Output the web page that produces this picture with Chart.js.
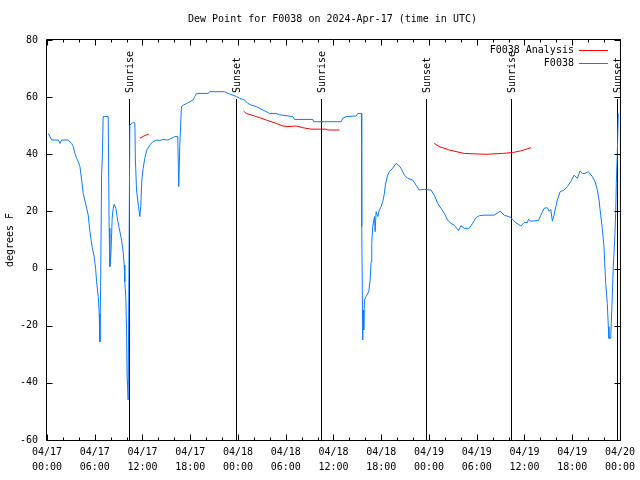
<!DOCTYPE html>
<html>
<head>
<meta charset="utf-8">
<script src="https://cdn.jsdelivr.net/npm/chart.js@4.4.1/dist/chart.umd.min.js"></script>
<style>
  html, body { margin: 0; padding: 0; background: #fff; }
  #wrap { width: 640px; height: 480px; }
</style>
</head>
<body>
<div id="wrap"><canvas id="c" width="640" height="480"></canvas></div>
<script>
// ---------- data (hours since 2024-04-17 00:00 UTC, degrees F) ----------
const titleText = 'Dew Point for F0038 on 2024-Apr-17 (time in UTC)';
const yAxisTitle = 'degrees F';
const seriesNames = ['F0038 Analysis', 'F0038'];

const xTickHours = [0, 6, 12, 18, 24, 30, 36, 42, 48, 54, 60, 66, 72];
const xTickDates = ['04/17','04/17','04/17','04/17','04/18','04/18','04/18','04/18','04/19','04/19','04/19','04/19','04/20'];
const xTickTimes = ['00:00','06:00','12:00','18:00','00:00','06:00','12:00','18:00','00:00','06:00','12:00','18:00','00:00'];
const xMinorHours = [2,4,8,10,14,16,20,22,26,28,32,34,38,40,44,46,50,52,56,58,62,64,68,70];
const yTicks = [-60, -40, -20, 0, 20, 40, 60, 80];

const sunHours  = [10.29, 23.71, 34.37, 47.67, 58.33, 71.63];
const sunLabels = ['Sunrise', 'Sunset', 'Sunrise', 'Sunset', 'Sunrise', 'Sunset'];

const obsHours = [0.16,0.59,1.42,1.63,1.84,2.67,3.10,3.30,3.51,3.73,3.93,4.14,4.35,4.55,4.85,5.18,5.39,5.68,5.93,6.11,
  6.23,6.44,6.56,6.65,6.74,6.86,6.94,7.06,7.69,7.81,7.90,8.03,8.19,8.32,8.44,8.66,8.82,8.99,9.16,9.37,
  9.57,9.70,9.78,9.91,10.00,10.07,10.20,10.41,10.75,11.04,11.10,11.25,11.50,11.67,11.79,11.92,12.08,12.29,12.54,12.92,
  13.30,13.80,14.17,14.55,15.18,16.06,16.43,16.56,16.68,16.90,17.19,17.56,17.94,18.35,18.57,18.78,20.23,20.45,22.33,22.74,
  23.37,23.80,24.21,24.84,25.25,25.68,26.31,27.13,27.56,27.97,28.81,29.23,30.90,31.11,33.41,33.49,36.97,37.17,37.59,38.85,
  39.05,39.51,39.55,39.68,39.77,39.80,39.89,40.10,40.43,40.61,40.73,40.81,40.93,41.15,41.23,41.36,41.56,41.77,41.99,42.19,
  42.40,42.52,42.81,43.03,43.44,43.87,44.19,44.49,44.91,45.32,45.95,46.38,46.79,47.42,48.26,48.67,49.09,49.51,49.93,50.34,
  50.77,51.18,51.72,52.02,52.43,53.06,53.48,53.90,54.32,54.94,56.20,56.95,57.45,58.29,58.49,58.92,59.55,59.96,60.37,60.50,
  60.80,61.76,62.06,62.47,62.88,63.10,63.31,63.51,63.72,63.94,64.14,64.48,64.98,65.39,65.82,66.23,66.65,66.99,67.27,67.61,
  68.03,68.53,68.87,69.16,69.37,69.58,69.78,69.99,70.21,70.41,70.54,70.62,70.84,70.91,71.04,71.16,71.34,71.47,71.54,71.67,
  71.79];
const obsDew = [47.3,45,45,43.8,45,45,43.8,42.7,40.3,38.6,37.4,35.7,31,26.3,22.8,18.7,12.9,7.4,4.2,0.1,
  -4.6,-9.8,-15.7,-25.6,-6.3,32.7,38,53.2,53.2,14.1,0.7,4.8,17.6,21.1,22.5,21,18,15.2,12.9,10,
  5.9,1.25,-4.6,-10.4,-22.1,-37.8,-46,50.2,51,51,38.7,27.5,21.7,18.2,22.2,31,35,38.6,41.5,43.2,
  44.4,45,44.8,45.2,45,46.2,46.2,28.7,42.7,56.7,57.3,57.8,58.4,59,60.2,61.3,61.3,61.9,61.9,61.3,
  60.7,60.2,59.6,59,57.8,57.2,56.7,55.5,54.9,54.3,54.3,53.8,53.2,52.2,52.2,51.4,51.4,52.6,53.2,53.4,
  54.3,54.3,14.7,-25,-14.5,-21.5,-11,-9.8,-8.1,-4,2.4,8.8,14.7,18.2,12.9,19.9,18.2,20.5,21.7,23.4,
  26.3,29.2,32.7,33.9,35.1,36.8,36.2,35.1,32.7,31.6,31,29.2,27.5,27.7,27.5,25.7,22.8,21.1,19.3,17,
  15.8,15.2,13.3,15,14.1,14.1,15.8,17.8,18.5,18.7,18.7,20.1,18.7,17.9,17.2,16.1,14.9,16.1,16.1,17.2,
  16.6,16.8,18.7,21.1,21.3,20.1,20.7,16.6,18.7,21.7,24,26.9,27.5,28.7,30.4,32.7,31.6,34.2,33.3,33.3,
  33.9,32.2,30.4,27.5,24,18.7,14.1,7.7,-5.2,-12.2,-20.3,-24.4,-24.4,-19.2,-9.3,0.6,10,19.9,29.8,40.3,
  54.3];

const anaHours = [11.67,12.17,12.80, 18,
  24.71,25.05,26.31,27.56,28.81,29.64,30.27,31.32,32.15,33.20,35.09,35.29,36.75, 42,
  48.67,49.30,50.55,52.43,55.16,57.24,58.49,59.55,60.80];
const anaDew = [45.6,46.4,47.1, null,
  55.1,54.3,53.2,52.0,50.8,49.9,49.7,49.9,49.3,48.8,48.8,48.5,48.5, null,
  43.8,42.7,41.5,40.3,40.0,40.3,40.6,41.2,42.3];

// ---------- styles ----------
const FONT = 'DejaVu Sans Mono';
const RED = '#ff0000';
const BLUE = '#0a7cff';

const toXY = (xs, ys) => xs.map((h, i) => ({ x: h, y: ys[i] }));

const decorPlugin = {
  id: 'decor',
  beforeDatasetsDraw(chart) {
    const { ctx, chartArea: a, scales: { x } } = chart;
    ctx.save();
    ctx.strokeStyle = '#000';
    ctx.fillStyle = '#000';
    ctx.lineWidth = 1;
    ctx.font = '10px "' + FONT + '"';
    sunHours.forEach((h, i) => {
      const px = Math.round(x.getPixelForValue(h)) + 0.5;
      ctx.beginPath();
      ctx.moveTo(px, a.top + 59);
      ctx.lineTo(px, a.bottom);
      ctx.stroke();
      ctx.save();
      ctx.translate(px + 1, a.top + 53);
      ctx.rotate(-Math.PI / 2);
      ctx.textAlign = 'left';
      ctx.textBaseline = 'middle';
      ctx.fillText(sunLabels[i], 0, 0);
      ctx.restore();
    });
    ctx.restore();
  },
  afterDraw(chart) {
    const { ctx, chartArea: a, scales: { x, y } } = chart;
    ctx.save();
    ctx.strokeStyle = '#000';
    ctx.fillStyle = '#000';
    ctx.lineWidth = 1;
    const L = a.left - 0.5, R = a.right + 0.5, T = a.top - 0.5, B = a.bottom + 0.5;
    ctx.beginPath();
    ctx.rect(L, T, R - L, B - T);
    ctx.stroke();
    ctx.beginPath();
    xTickHours.forEach(h => {
      const px = Math.round(x.getPixelForValue(h)) + 0.5;
      ctx.moveTo(px, B); ctx.lineTo(px, B - 6);
      ctx.moveTo(px, T); ctx.lineTo(px, T + 6);
    });
    xMinorHours.forEach(h => {
      const px = Math.round(x.getPixelForValue(h)) + 0.5;
      ctx.moveTo(px, B); ctx.lineTo(px, B - 3);
      ctx.moveTo(px, T); ctx.lineTo(px, T + 3);
    });
    yTicks.forEach(v => {
      const py = Math.round(y.getPixelForValue(v)) + 0.5;
      ctx.moveTo(L, py); ctx.lineTo(L + 6, py);
      ctx.moveTo(R, py); ctx.lineTo(R - 6, py);
    });
    ctx.stroke();

    ctx.font = '10px "' + FONT + '"';
    // title
    ctx.textAlign = 'center';
    ctx.textBaseline = 'middle';
    ctx.fillText(titleText, (a.left + a.right) / 2 - 1, 19);
    // y axis title
    ctx.save();
    ctx.translate(10, (a.top + a.bottom) / 2);
    ctx.rotate(-Math.PI / 2);
    ctx.fillText(yAxisTitle, 0, 0);
    ctx.restore();
    // legend
    const colors = [RED, BLUE];
    seriesNames.forEach((name, i) => {
      const ly = a.top + 10 + i * 13;
      ctx.textAlign = 'right';
      ctx.fillStyle = '#000';
      ctx.fillText(name, a.right - 46, ly);
      ctx.strokeStyle = colors[i];
      ctx.beginPath();
      ctx.moveTo(a.right - 41, ly + 0.5);
      ctx.lineTo(a.right - 12, ly + 0.5);
      ctx.stroke();
    });
    ctx.restore();
  }
};

new Chart(document.getElementById('c'), {
  type: 'line',
  data: {
    datasets: [
      {
        label: seriesNames[1],
        data: toXY(obsHours, obsDew),
        borderColor: BLUE,
        borderWidth: 1,
        pointRadius: 0,
        tension: 0,
        fill: false,
        spanGaps: false
      },
      {
        label: seriesNames[0],
        data: toXY(anaHours, anaDew),
        borderColor: RED,
        borderWidth: 1,
        pointRadius: 0,
        tension: 0,
        fill: false,
        spanGaps: false
      }
    ]
  },
  options: {
    responsive: false,
    animation: false,
    devicePixelRatio: 1,
    layout: { padding: { left: 0, right: 19, top: 40, bottom: 0 } },
    plugins: { legend: { display: false }, title: { display: false }, tooltip: { enabled: false } },
    scales: {
      x: {
        type: 'linear', min: 0, max: 72,
        grid: { display: false, drawTicks: false },
        border: { display: false },
        afterBuildTicks: s => { s.ticks = xTickHours.map(v => ({ value: v })); },
        afterFit: s => { s.height = 40; },
        ticks: {
          autoSkip: false, maxRotation: 0, minRotation: 0, padding: 5, color: '#000',
          font: { family: FONT, size: 10, lineHeight: 1.5 },
          callback: (v, i) => [xTickDates[i], xTickTimes[i]]
        }
      },
      y: {
        type: 'linear', min: -60, max: 80,
        grid: { display: false, drawTicks: false },
        border: { display: false },
        afterBuildTicks: s => { s.ticks = yTicks.map(v => ({ value: v })); },
        afterFit: s => { s.width = 47; },
        ticks: {
          padding: 9, color: '#000',
          font: { family: FONT, size: 10 },
          callback: v => String(v)
        }
      }
    }
  },
  plugins: [decorPlugin]
});
</script>
</body>
</html>
